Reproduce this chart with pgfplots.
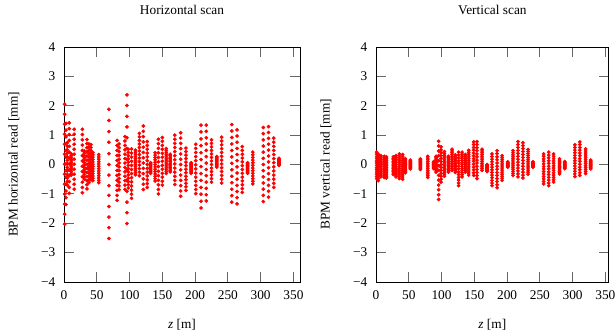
\documentclass[border=0pt]{standalone}
\usepackage{fontspec}
\setmainfont{Liberation Serif}
\usepackage{pgfplots}
\usepackage{pgfplotstable}
\pgfplotsset{compat=1.18}

\pgfplotstableread{
z v1 v2 v3 v4 v5 v6 v7 v8 v9 v10 v11 v12 v13
1 -2.03 -1.69 -1.35 -1.01 -0.67 -0.33 0.01 0.35 0.69 1.03 1.37 1.71 2.05
3 -1.36 -1.13 -0.90 -0.67 -0.44 -0.21 0.02 0.25 0.48 0.71 0.94 1.17 1.40
5 -0.70 -0.58 -0.46 -0.34 -0.22 -0.10 0.02 0.14 0.26 0.38 0.50 0.62 0.74
8 -0.98 -0.78 -0.58 -0.38 -0.18 0.02 0.22 0.42 0.62 0.82 1.02 1.22 1.42
11 -0.36 -0.30 -0.24 -0.18 -0.12 -0.06 0.00 0.06 0.12 0.18 0.24 0.30 0.36
15.5 -0.84 -0.67 -0.50 -0.33 -0.16 0.01 0.18 0.35 0.52 0.69 0.86 1.03 1.20
28 -0.96 -0.78 -0.60 -0.42 -0.24 -0.06 0.12 0.30 0.48 0.66 0.84 1.02 1.20
31 -0.50 -0.42 -0.34 -0.26 -0.18 -0.10 -0.02 0.06 0.14 0.22 0.30 0.38 0.46
35 -0.83 -0.69 -0.55 -0.41 -0.27 -0.13 0.01 0.15 0.29 0.43 0.57 0.71 0.85
38 -0.62 -0.51 -0.40 -0.29 -0.18 -0.07 0.04 0.15 0.26 0.37 0.48 0.59 0.70
41 -0.52 -0.42 -0.32 -0.22 -0.12 -0.02 0.08 0.18 0.28 0.38 0.48 0.58 0.68
44 -0.55 -0.47 -0.39 -0.31 -0.23 -0.15 -0.07 0.01 0.09 0.17 0.25 0.33 0.41
53 -0.62 -0.54 -0.46 -0.38 -0.30 -0.22 -0.14 -0.06 0.02 0.10 0.18 0.26 0.34
68.5 -2.52 -2.15 -1.79 -1.43 -1.05 -0.72 -0.36 0.00 0.37 0.76 1.12 1.50 1.88
81 -1.22 -1.05 -0.88 -0.71 -0.54 -0.37 -0.20 -0.03 0.14 0.31 0.48 0.65 0.82
84 -0.86 -0.73 -0.60 -0.47 -0.34 -0.21 -0.08 0.05 0.18 0.31 0.44 0.57 0.70
93 -0.85 -0.70 -0.55 -0.40 -0.25 -0.10 0.05 0.20 0.35 0.50 0.65 0.80 0.95
96 -2.01 -1.64 -1.28 -0.91 -0.55 -0.18 0.18 0.55 0.91 1.28 1.64 2.01 2.37
98 -0.80 -0.69 -0.58 -0.47 -0.36 -0.25 -0.14 -0.03 0.08 0.19 0.30 0.41 0.52
103 -1.15 -1.01 -0.87 -0.73 -0.59 -0.45 -0.31 -0.17 -0.03 0.11 0.25 0.39 0.53
109 -0.35 -0.28 -0.21 -0.14 -0.07 0.00 0.07 0.14 0.21 0.28 0.35 0.42 0.49
115 -0.38 -0.26 -0.14 -0.02 0.10 0.22 0.34 0.46 0.58 0.70 0.82 0.94 1.06
121 -0.85 -0.67 -0.49 -0.31 -0.13 0.05 0.23 0.41 0.59 0.77 0.95 1.13 1.31
127 -0.78 -0.65 -0.52 -0.39 -0.26 -0.13 0.00 0.13 0.26 0.39 0.52 0.65 0.78
132 -0.30 -0.27 -0.24 -0.21 -0.18 -0.15 -0.12 -0.09 -0.06 -0.03 0.00 0.03 0.06
139 -0.56 -0.48 -0.40 -0.32 -0.24 -0.16 -0.08 0.00 0.08 0.16 0.24 0.32 0.40
144 -1.00 -0.85 -0.69 -0.54 -0.38 -0.23 -0.07 0.09 0.24 0.40 0.55 0.71 0.86
150 -0.70 -0.57 -0.43 -0.30 -0.16 -0.03 0.11 0.25 0.38 0.52 0.65 0.79 0.92
156 -0.30 -0.23 -0.16 -0.09 -0.02 0.05 0.12 0.19 0.26 0.33 0.40 0.47 0.54
162 -0.25 -0.20 -0.15 -0.10 -0.05 0.00 0.05 0.10 0.15 0.20 0.25 0.30 0.35
169 -0.68 -0.54 -0.40 -0.26 -0.12 0.02 0.16 0.30 0.44 0.58 0.72 0.86 1.00
178 -1.08 -0.90 -0.72 -0.54 -0.36 -0.18 0.00 0.18 0.36 0.54 0.72 0.90 1.08
186 -0.88 -0.76 -0.64 -0.52 -0.40 -0.28 -0.16 -0.04 0.08 0.20 0.32 0.44 0.56
194 -0.30 -0.27 -0.24 -0.21 -0.18 -0.15 -0.12 -0.09 -0.06 -0.03 0.00 0.03 0.06
201 -0.99 -0.85 -0.71 -0.57 -0.43 -0.29 -0.15 -0.01 0.13 0.27 0.41 0.55 0.69
209 -1.48 -1.25 -1.01 -0.78 -0.54 -0.31 -0.07 0.17 0.40 0.64 0.87 1.11 1.34
217 -1.24 -1.03 -0.81 -0.60 -0.38 -0.17 0.05 0.27 0.48 0.70 0.91 1.13 1.34
225 -0.60 -0.48 -0.36 -0.24 -0.12 0.00 0.12 0.24 0.36 0.48 0.60 0.72 0.84
233 -0.09 -0.06 -0.03 0.00 0.03 0.06 0.09 0.12 0.15 0.18 0.21 0.24 0.27
240.5 -0.63 -0.50 -0.37 -0.24 -0.11 0.02 0.15 0.28 0.41 0.54 0.67 0.80 0.93
256 -1.28 -1.06 -0.84 -0.62 -0.40 -0.18 0.04 0.26 0.48 0.70 0.92 1.14 1.36
264 -1.34 -1.13 -0.92 -0.71 -0.50 -0.29 -0.08 0.13 0.34 0.55 0.76 0.97 1.18
272 -0.95 -0.82 -0.69 -0.56 -0.43 -0.30 -0.17 -0.04 0.09 0.22 0.35 0.48 0.61
280 -0.30 -0.27 -0.24 -0.21 -0.18 -0.15 -0.12 -0.09 -0.06 -0.03 0.00 0.03 0.06
288 -0.66 -0.57 -0.48 -0.39 -0.30 -0.21 -0.12 -0.03 0.06 0.15 0.24 0.33 0.42
304 -1.26 -1.05 -0.84 -0.63 -0.42 -0.21 0.00 0.21 0.42 0.63 0.84 1.05 1.26
312 -1.11 -0.91 -0.71 -0.51 -0.31 -0.11 0.09 0.29 0.49 0.69 0.89 1.09 1.29
320 -0.78 -0.64 -0.50 -0.36 -0.22 -0.08 0.06 0.20 0.34 0.48 0.62 0.76 0.90
328 -0.03 -0.01 0.01 0.03 0.05 0.07 0.09 0.11 0.13 0.15 0.17 0.19 0.21
}\tabH

\pgfplotstableread{
z v1 v2 v3 v4 v5 v6 v7 v8 v9 v10 v11 v12 v13
1 -0.48 -0.41 -0.33 -0.26 -0.18 -0.11 -0.03 0.05 0.12 0.20 0.27 0.35 0.42
3.5 -0.55 -0.48 -0.40 -0.33 -0.25 -0.18 -0.10 -0.03 0.05 0.12 0.20 0.27 0.35
7.5 -0.42 -0.36 -0.30 -0.24 -0.18 -0.12 -0.06 0.00 0.06 0.12 0.18 0.24 0.30
12.6 -0.44 -0.38 -0.32 -0.26 -0.20 -0.14 -0.08 -0.02 0.04 0.10 0.16 0.22 0.28
16 -0.46 -0.40 -0.34 -0.28 -0.22 -0.16 -0.10 -0.04 0.02 0.08 0.14 0.20 0.26
26.4 -0.34 -0.29 -0.24 -0.19 -0.14 -0.09 -0.04 0.01 0.06 0.11 0.16 0.21 0.26
30.5 -0.42 -0.36 -0.30 -0.24 -0.18 -0.12 -0.06 0.00 0.06 0.12 0.18 0.24 0.30
35.6 -0.48 -0.41 -0.34 -0.27 -0.20 -0.13 -0.06 0.01 0.08 0.15 0.22 0.29 0.36
40.6 -0.50 -0.43 -0.36 -0.29 -0.22 -0.15 -0.08 -0.01 0.06 0.13 0.20 0.27 0.34
44.8 -0.28 -0.24 -0.20 -0.16 -0.12 -0.08 -0.04 0.00 0.04 0.08 0.12 0.16 0.20
52.4 -0.150 -0.125 -0.100 -0.075 -0.050 -0.025 0.000 0.025 0.050 0.075 0.100 0.125 0.150
67.7 -0.17 -0.14 -0.11 -0.08 -0.05 -0.02 0.01 0.04 0.07 0.10 0.13 0.16 0.19
79 -0.44 -0.38 -0.32 -0.26 -0.20 -0.14 -0.08 -0.02 0.04 0.10 0.16 0.22 0.28
88 -0.14 -0.12 -0.10 -0.08 -0.06 -0.04 -0.02 0.00 0.02 0.04 0.06 0.08 0.10
91.7 -0.26 -0.22 -0.17 -0.13 -0.08 -0.04 0.01 0.06 0.10 0.15 0.19 0.24 0.28
95.6 -1.19 -1.03 -0.86 -0.70 -0.53 -0.37 -0.20 -0.04 0.13 0.30 0.46 0.63 0.79
99.3 -0.60 -0.50 -0.40 -0.30 -0.20 -0.10 0.00 0.10 0.20 0.30 0.40 0.50 0.60
104.4 -0.40 -0.33 -0.26 -0.19 -0.12 -0.05 0.02 0.09 0.16 0.23 0.30 0.37 0.44
110.5 -0.26 -0.22 -0.17 -0.13 -0.08 -0.04 0.01 0.06 0.10 0.15 0.19 0.24 0.28
116 -0.20 -0.14 -0.08 -0.02 0.04 0.10 0.16 0.22 0.28 0.34 0.40 0.46 0.52
121 -0.27 -0.22 -0.17 -0.12 -0.07 -0.02 0.03 0.08 0.13 0.18 0.23 0.28 0.33
126 -0.72 -0.63 -0.53 -0.44 -0.34 -0.25 -0.15 -0.06 0.04 0.13 0.23 0.32 0.42
131.3 -0.42 -0.35 -0.28 -0.21 -0.14 -0.07 0.00 0.07 0.14 0.21 0.28 0.35 0.42
136.3 -0.26 -0.21 -0.16 -0.11 -0.06 -0.01 0.04 0.09 0.14 0.19 0.24 0.29 0.34
141.4 -0.36 -0.29 -0.22 -0.15 -0.08 -0.01 0.06 0.13 0.20 0.27 0.34 0.41 0.48
149 -0.37 -0.28 -0.18 -0.09 0.01 0.11 0.20 0.30 0.39 0.49 0.58 0.68 0.77
154 -0.48 -0.38 -0.27 -0.17 -0.06 0.05 0.15 0.26 0.36 0.47 0.57 0.68 0.78
161.8 -0.20 -0.14 -0.08 -0.02 0.04 0.10 0.16 0.22 0.28 0.34 0.40 0.46 0.52
169.5 -0.24 -0.22 -0.20 -0.18 -0.16 -0.14 -0.12 -0.10 -0.08 -0.06 -0.04 -0.02 0.00
177 -0.72 -0.63 -0.54 -0.45 -0.36 -0.27 -0.18 -0.09 0.00 0.09 0.18 0.27 0.36
184.7 -0.79 -0.69 -0.58 -0.48 -0.37 -0.27 -0.16 -0.06 0.05 0.16 0.26 0.37 0.47
192.4 -0.54 -0.47 -0.40 -0.33 -0.26 -0.19 -0.12 -0.05 0.02 0.09 0.16 0.23 0.30
201 -0.090 -0.075 -0.060 -0.045 -0.030 -0.015 0.000 0.015 0.030 0.045 0.060 0.075 0.090
209 -0.37 -0.30 -0.23 -0.16 -0.09 -0.02 0.05 0.12 0.19 0.26 0.33 0.40 0.47
216.6 -0.42 -0.32 -0.22 -0.12 -0.02 0.08 0.18 0.28 0.38 0.48 0.58 0.68 0.78
224.2 -0.46 -0.36 -0.26 -0.16 -0.06 0.04 0.14 0.24 0.34 0.44 0.54 0.64 0.74
232 -0.33 -0.26 -0.19 -0.12 -0.05 0.02 0.09 0.16 0.23 0.30 0.37 0.44 0.51
239.5 -0.090 -0.075 -0.060 -0.045 -0.030 -0.015 0.000 0.015 0.030 0.045 0.060 0.075 0.090
255.8 -0.66 -0.58 -0.49 -0.41 -0.32 -0.24 -0.15 -0.07 0.02 0.11 0.19 0.28 0.36
263.5 -0.72 -0.63 -0.53 -0.44 -0.34 -0.25 -0.15 -0.06 0.04 0.13 0.23 0.32 0.42
271 -0.60 -0.52 -0.44 -0.36 -0.28 -0.20 -0.12 -0.04 0.04 0.12 0.20 0.28 0.36
280 -0.32 -0.28 -0.24 -0.19 -0.15 -0.11 -0.07 -0.02 0.02 0.06 0.11 0.15 0.19
288 -0.14 -0.12 -0.10 -0.08 -0.06 -0.04 -0.02 0.00 0.02 0.04 0.06 0.08 0.10
303.4 -0.41 -0.32 -0.23 -0.14 -0.05 0.04 0.13 0.22 0.31 0.40 0.49 0.58 0.67
311 -0.37 -0.28 -0.18 -0.09 0.01 0.11 0.20 0.30 0.39 0.49 0.58 0.68 0.77
319.8 -0.31 -0.24 -0.17 -0.10 -0.03 0.04 0.11 0.18 0.25 0.32 0.39 0.46 0.53
327.5 -0.150 -0.125 -0.100 -0.075 -0.050 -0.025 0.000 0.025 0.050 0.075 0.100 0.125 0.150
}\tabV

\pgfplotsset{
  scanax/.style={
    scale only axis,
    height=176.25pt,
    xmin=0, ymin=-4, ymax=4,
    xtick={0,50,...,350},
    xticklabels={0,50,100,150,200,250,300,350},
    ytick={-4,-3,...,4},
    yticklabels={−4,−3,−2,−1,0,1,2,3,4},
    tick align=inside,
    major tick length=7.5pt,
    tick style={line width=0.6pt, black!60},
    axis line style={line width=0.7pt, black},
    xticklabel style={yshift=-3pt},
    yticklabel style={xshift=-3pt},
    xlabel style={at={(axis description cs:0.5,0)}, yshift=-32.25pt, anchor=center},
    title style={at={(axis description cs:0.5,1)}, yshift=22pt, anchor=center},
    xlabel={\textit{z} [m]},
    clip=false,
  },
  dots/.style={only marks, mark=*, mark size=1.2pt, color=red, mark options={draw=red, fill=red}},
}

\begin{document}
\begin{tikzpicture}
\path[use as bounding box] (-48pt,-38.25pt) rectangle (414pt,211.5pt);
\begin{axis}[scanax, at={(0pt,0pt)}, anchor=south west,
  width=177pt, xmax=360,
  title={Horizontal scan},
  ylabel={BPM horizontal read [mm]},
  ylabel style={at={(axis description cs:-0.212,0.5)}, anchor=center}]
\pgfplotsinvokeforeach{1,...,13}{
  \addplot[dots] table[x=z, y=v#1]{\tabH};
}
\end{axis}
\begin{axis}[scanax, at={(234pt,0pt)}, anchor=south west,
  width=174.5pt, xmax=355,
  title={Vertical scan},
  ylabel={BPM vertical read [mm]},
  ylabel style={at={(axis description cs:-0.215,0.5)}, anchor=center}]
\pgfplotsinvokeforeach{1,...,13}{
  \addplot[dots] table[x=z, y=v#1]{\tabV};
}
\end{axis}
\end{tikzpicture}
\end{document}
